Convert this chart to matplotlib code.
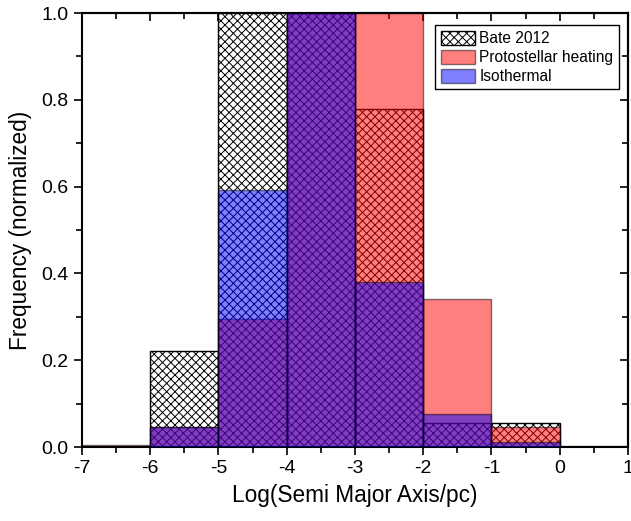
import matplotlib
matplotlib.use("Agg")
import matplotlib.pyplot as plt
from matplotlib.ticker import MultipleLocator
from matplotlib.patches import Patch

plt.rcParams['font.family'] = ['Liberation Sans', 'DejaVu Sans']
plt.rcParams['hatch.linewidth'] = 0.7
plt.rcParams['hatch.color'] = '#222222'

# Histogram bins of log10(semi-major axis / pc)
bin_edges = [-7, -6, -5, -4, -3, -2, -1, 0, 1]
bate_2012 = [0.0, 0.222, 1.0, 1.0, 0.778, 0.056, 0.056, 0.0]
protostellar = [0.005, 0.046, 0.295, 1.0, 1.0, 0.342, 0.046, 0.003]
isothermal = [0.0, 0.046, 0.592, 1.0, 0.381, 0.076, 0.011, 0.0]

lefts = bin_edges[:-1]
widths = [b - a for a, b in zip(bin_edges[:-1], bin_edges[1:])]

fig = plt.figure(figsize=(6.31, 5.21), dpi=100)
ax = fig.add_axes([0.130, 0.142, 0.865, 0.833])

ax.bar(lefts, bate_2012, width=widths, align='edge', facecolor='white',
       edgecolor='black', hatch='xxxx', linewidth=1.0, zorder=1)
ax.bar(lefts, protostellar, width=widths, align='edge',
       facecolor=(1, 0, 0, 0.5), edgecolor=(0, 0, 0, 0.5), linewidth=1.0, zorder=2)
ax.bar(lefts, isothermal, width=widths, align='edge',
       facecolor=(0, 0, 1, 0.5), edgecolor=(0, 0, 0, 0.5), linewidth=1.0, zorder=3)

ax.set_xlim(-7, 1)
ax.set_ylim(0, 1.0)
ax.xaxis.set_major_locator(MultipleLocator(1))
ax.xaxis.set_minor_locator(MultipleLocator(0.5))
ax.yaxis.set_major_locator(MultipleLocator(0.2))
ax.yaxis.set_minor_locator(MultipleLocator(0.1))
ax.set_xticks(range(-7, 2))
ax.set_xticklabels([str(v) for v in range(-7, 2)])
ax.yaxis.set_major_formatter(plt.FuncFormatter(lambda v, p: f"{v:.1f}"))

ax.tick_params(which='both', direction='out', width=1.2, labelsize=14)
ax.tick_params(which='major', length=6)
ax.tick_params(which='minor', length=4)

# Mirror ticks on top and right pointing inward
top = ax.secondary_xaxis('top')
top.xaxis.set_major_locator(MultipleLocator(1))
top.xaxis.set_minor_locator(MultipleLocator(0.5))
top.tick_params(which='both', direction='in', width=1.2, labeltop=False)
top.tick_params(which='major', length=6)
top.tick_params(which='minor', length=4)
right = ax.secondary_yaxis('right')
right.yaxis.set_major_locator(MultipleLocator(0.2))
right.yaxis.set_minor_locator(MultipleLocator(0.1))
right.tick_params(which='both', direction='in', width=1.2, labelright=False)
right.tick_params(which='major', length=6)
right.tick_params(which='minor', length=4)

for s in ax.spines.values():
    s.set_linewidth(1.5)
top.spines['top'].set_linewidth(1.5)
right.spines['right'].set_linewidth(1.5)

ax.set_xlabel('Log(Semi Major Axis/pc)', fontsize=16.3, labelpad=5)
ax.set_ylabel('Frequency (normalized)', fontsize=16.3, labelpad=7)

handles = [
    Patch(facecolor='white', edgecolor='black', hatch='xxxx', label='Bate 2012'),
    Patch(facecolor=(1, 0, 0, 0.5), edgecolor=(0, 0, 0, 0.5), label='Protostellar heating'),
    Patch(facecolor=(0, 0, 1, 0.5), edgecolor=(0, 0, 0, 0.5), label='Isothermal'),
]
leg = ax.legend(handles=handles, loc='upper right', bbox_to_anchor=(0.9835, 0.972),
                fontsize=11.2, frameon=True, fancybox=False, edgecolor='black',
                framealpha=1, borderpad=0.35, labelspacing=0.22, handlelength=2.2,
                handleheight=1.05, handletextpad=0.3, borderaxespad=0.0)
leg.get_frame().set_linewidth(1.0)
leg.set_zorder(10)

fig.savefig('out.png', dpi=100)
